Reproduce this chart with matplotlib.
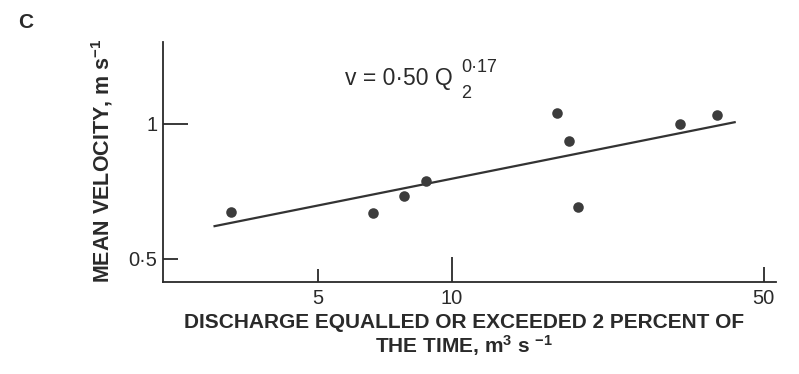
import matplotlib
matplotlib.use("Agg")
import matplotlib.pyplot as plt

plt.rcParams['font.family'] = ['Liberation Sans', 'DejaVu Sans']
plt.rcParams['mathtext.default'] = 'regular'

# Data
q2 = [3.2, 6.64, 7.8, 8.73, 17.2, 18.3, 19.2, 32.4, 39.4]
v = [0.634, 0.631, 0.690, 0.746, 1.058, 0.918, 0.652, 1.0, 1.049]
fit_q = [2.92, 43.3]
fit_v = [0.59, 1.01]
xticks = [5, 10, 50]
xticklabels = ["5", "10", "50"]
yticks = [0.5, 1]
yticklabels = ["0·5", "1"]

W, H = 799, 374
fig = plt.figure(figsize=(W / 100, H / 100), dpi=100)
ax = fig.add_axes([163 / W, 1 - 282 / H, (776 - 163) / W, (282 - 42) / H])
ax.set_xscale('log')
ax.set_yscale('log')
ax.set_xlim(2.25, 53.3)
ax.set_ylim(0.443, 1.525)

ink = '#2a2a2a'
ax.plot(fit_q, fit_v, color='#333333', lw=1.6, solid_capstyle='butt')
ax.plot(q2, v, 'o', color='#3c3c3c', markersize=7.6, markeredgewidth=0)

for s in ['top', 'right']:
    ax.spines[s].set_visible(False)
for s in ['left', 'bottom']:
    ax.spines[s].set_linewidth(1.3)
    ax.spines[s].set_color(ink)

ax.minorticks_off()
ax.set_xticks(xticks)
ax.set_xticklabels(xticklabels)
ax.set_yticks(yticks)
ax.set_yticklabels(yticklabels)
ax.tick_params(axis='both', which='major', direction='in', width=1.3, color=ink,
               labelsize=14.5, labelcolor=ink)
ax.tick_params(axis='x', pad=5)
ax.tick_params(axis='y', pad=4)
xlens = [9.4, 18, 10.8]
for t, L in zip(ax.xaxis.get_major_ticks(), xlens):
    t.tick1line.set_markersize(L)
ylens = [10.8, 18]
for t, L in zip(ax.yaxis.get_major_ticks(), ylens):
    t.tick1line.set_markersize(L)

def fx(px):
    return px / W

def fy(py):
    return 1 - py / H

# Panel letter
fig.text(fx(25.5), fy(22.5), "C", fontsize=15, fontweight='bold', color=ink,
         ha='center', va='center')

# Equation
fig.text(fx(345), fy(79), "v = 0·50 Q", fontsize=16.5, color=ink, ha='left', va='center')
fig.text(fx(461), fy(67), "0·17", fontsize=13, color=ink, ha='left', va='center')
fig.text(fx(461), fy(93), "2", fontsize=13, color=ink, ha='left', va='center')

# X label (two lines)
fig.text(fx(464), fy(323), "DISCHARGE EQUALLED OR EXCEEDED 2 PERCENT OF",
         fontsize=15, fontweight='bold', color=ink, ha='center', va='center')
fig.text(fx(464), fy(346), r"THE TIME, m$^{3}$ s $^{-1}$",
         fontsize=15, fontweight='bold', color=ink, ha='center', va='center')

# Y label
fig.text(fx(102), fy(161), r"MEAN VELOCITY, m s$^{-1}$", rotation=90,
         fontsize=15.5, fontweight='bold', color=ink, ha='center', va='center')

fig.savefig("out.png", dpi=100)
